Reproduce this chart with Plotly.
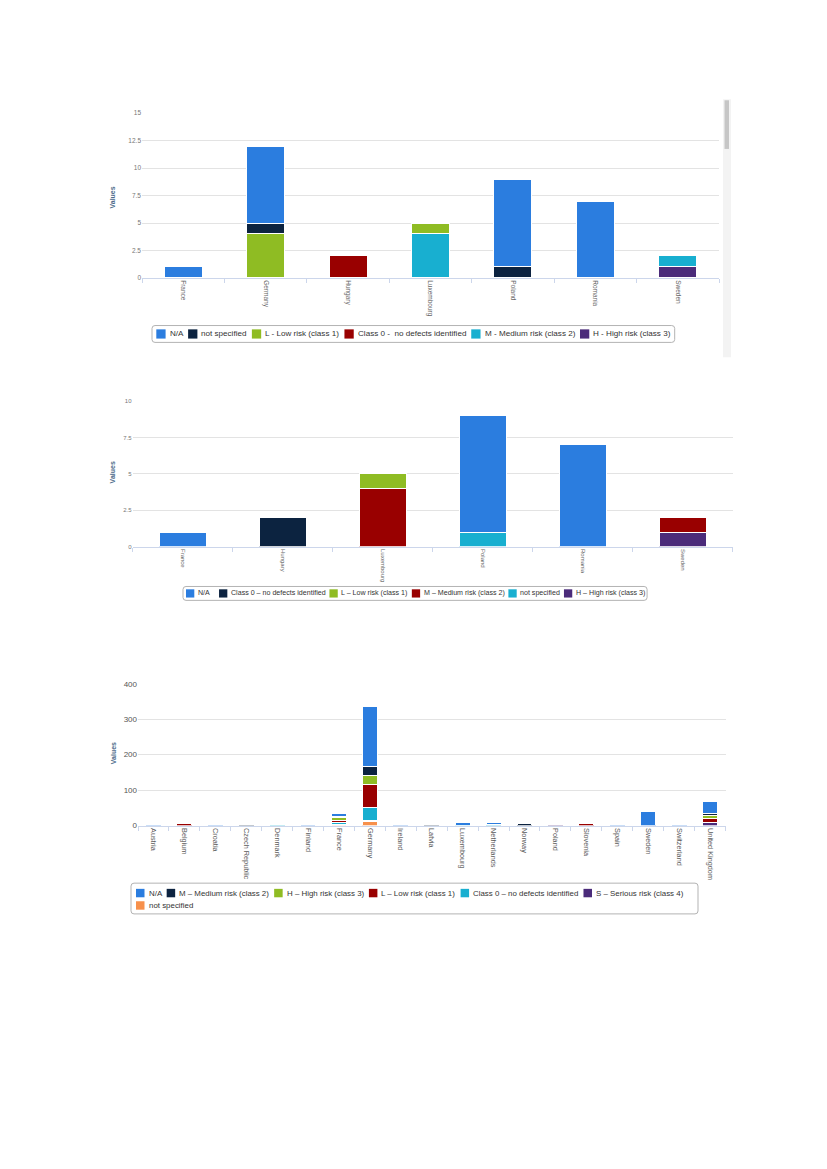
import plotly.graph_objects as go

# page body has an 8px margin, so the figure is drawn inside it
OFF = 8
W, H = 827 - 2 * OFF, 1169 - 2 * OFF
FONT = "Liberation Sans"

# ---------------- data ----------------
cats1 = ["France", "Germany", "Hungary", "Luxembourg", "Poland", "Romania", "Sweden"]
names1 = ["N/A", "not specified", "L - Low risk (class 1)", "Class 0 -  no defects identified",
          "M - Medium risk (class 2)", "H - High risk (class 3)"]
vals1_na = [1, 7, None, None, 8, 7, None]
vals1_notspec = [None, 1, None, None, 1, None, None]
vals1_low = [None, 4, None, 1, None, None, None]
vals1_class0 = [None, None, 2, None, None, None, None]
vals1_medium = [None, None, None, 4, None, None, 1]
vals1_high = [None, None, None, None, None, None, 1]
series1 = [vals1_na, vals1_notspec, vals1_low, vals1_class0, vals1_medium, vals1_high]
ticks1 = [0, 2.5, 5, 7.5, 10, 12.5, 15]

cats2 = ["France", "Hungary", "Luxembourg", "Poland", "Romania", "Sweden"]
names2 = ["N/A", "Class 0 – no defects identified", "L – Low risk (class 1)",
          "M – Medium risk (class 2)", "not specified", "H – High risk (class 3)"]
vals2_na = [1, None, None, 8, 7, None]
vals2_class0 = [None, 2, None, None, None, None]
vals2_low = [None, None, 1, None, None, None]
vals2_medium = [None, None, 4, None, None, 1]
vals2_notspec = [None, None, None, 1, None, None]
vals2_high = [None, None, None, None, None, 1]
series2 = [vals2_na, vals2_class0, vals2_low, vals2_medium, vals2_notspec, vals2_high]
ticks2 = [0, 2.5, 5, 7.5, 10]

cats3 = ["Austria", "Belgium", "Croatia", "Czech Republic", "Denmark", "Finland", "France",
         "Germany", "Ireland", "Latvia", "Luxembourg", "Netherlands", "Norway", "Poland",
         "Slovenia", "Spain", "Sweden", "Switzerland", "United Kingdom"]
names3 = ["N/A", "M – Medium risk (class 2)", "H – High risk (class 3)", "L – Low risk (class 1)",
          "Class 0 – no defects identified", "S – Serious risk (class 4)", "not specified"]
vals3_na = [1, None, 1, None, 4, 1, 8, 171, 1, None, 9, 5, None, None, None, 1, 41, 1, 32]
vals3_medium = [None, None, None, 1, None, None, 3, 26, None, 4, None, None, 5, None, None, None, None, None, 7]
vals3_high = [None, None, None, None, 3, None, 7, 25, None, None, None, None, None, None, None, None, None, None, 9]
vals3_low = [None, 5, None, None, None, None, 7, 63, None, None, None, None, None, None, 5, None, None, None, 9]
vals3_class0 = [None, None, None, None, 3, None, 6, 38, None, None, 1, 3, None, None, None, None, None, None, None]
vals3_serious = [None, None, None, None, None, None, 1, 2, None, None, None, None, None, 4, None, None, None, None, 10]
vals3_notspec = [None, None, None, None, None, None, 1, 12, None, None, None, None, None, None, None, None, None, None, None]
series3 = [vals3_na, vals3_medium, vals3_high, vals3_low, vals3_class0, vals3_serious, vals3_notspec]
ticks3 = [0, 100, 200, 300, 400]

BLUE, NAVY, GREEN, RED, CYAN, PURPLE, ORANGE = (
    "#2b7ddf", "#0c2340", "#8fbc23", "#990000", "#18afd0", "#4b2b7a", "#f7904b")
colors1 = [BLUE, NAVY, GREEN, RED, CYAN, PURPLE]
colors2 = [BLUE, NAVY, GREEN, RED, CYAN, PURPLE]
colors3 = [BLUE, NAVY, GREEN, RED, CYAN, PURPLE, ORANGE]

# ---------------- helpers ----------------
def X(px):
    return (px - OFF) / W

def Y(py):
    return 1 - (py - OFF) / H

AW = {" ": 278, "(": 333, ")": 333, "-": 333, "–": 556, "/": 278, ".": 278}
for d in "0123456789":
    AW[d] = 556
AW.update(dict(zip("ABCDEFGHIJKLMNOPQRSTUVWXYZ",
                   [667, 667, 722, 722, 667, 611, 778, 722, 278, 500, 667, 556, 833, 722, 778,
                    667, 778, 722, 667, 611, 722, 667, 944, 667, 667, 611])))
AW.update(dict(zip("abcdefghijklmnopqrstuvwxyz",
                   [556, 556, 500, 556, 556, 278, 556, 556, 222, 222, 500, 222, 833, 556, 556,
                    556, 556, 333, 500, 278, 556, 500, 722, 500, 500, 500])))

def tw(s, f):
    return sum(AW.get(c, 556) for c in s) * f / 1000.0

shapes = []
annotations = []

def rounded_box(x0, y0, x1, y1, r=3):
    rx, ry = r / W, r / H
    a, b, c, d = X(x0), X(x1), Y(y0), Y(y1)
    p = (f"M{a+rx},{c} L{b-rx},{c} Q{b},{c} {b},{c-ry} L{b},{d+ry} Q{b},{d} {b-rx},{d} "
         f"L{a+rx},{d} Q{a},{d} {a},{d+ry} L{a},{c-ry} Q{a},{c} {a+rx},{c} Z")
    shapes.append(dict(type="path", xref="paper", yref="paper", path=p,
                       line=dict(color="#b3b3b3", width=1), fillcolor="rgba(0,0,0,0)", layer="above"))

def legend(names, colors, rows, x_start, row_y, f, sym, pad, gap, first_gap=None, color="#333333"):
    end = x_start
    for r, idxs in enumerate(rows):
        x = x_start
        yc = row_y[r]
        for k, i in enumerate(idxs):
            if k > 0:
                x += (first_gap if (k == 1 and first_gap is not None) else gap)
            shapes.append(dict(type="rect", xref="paper", yref="paper",
                               x0=X(x), x1=X(x + sym), y0=Y(yc - sym / 2), y1=Y(yc + sym / 2),
                               fillcolor=colors[i], line=dict(width=0), layer="above"))
            annotations.append(dict(text=names[i], xref="paper", yref="paper",
                                    x=X(x + sym + pad), y=Y(yc), xanchor="left", yanchor="middle",
                                    showarrow=False, borderpad=0,
                                    font=dict(family=FONT, size=f, color=color)))
            x += sym + pad + tw(names[i], f)
        end = max(end, x)
    return end

# ---------------- figure ----------------
fig = go.Figure()

def add_bars(cats, series, names, colors, width, xa, ya):
    for vals, nm, col in reversed(list(zip(series, names, colors))):
        fig.add_trace(go.Bar(x=cats, y=vals, name=nm, width=width,
                             marker=dict(color=col, line=dict(color="white", width=1)),
                             xaxis=xa, yaxis=ya, showlegend=False))

add_bars(cats1, series1, names1, colors1, 0.46, "x", "y")
add_bars(cats2, series2, names2, colors2, 0.47, "x2", "y2")
add_bars(cats3, series3, names3, colors3, 0.48, "x3", "y3")

def xaxis(dom, anchor, fs, col):
    return dict(domain=[X(dom[0]), X(dom[1])], anchor=anchor, type="category",
                showline=True, linecolor="#ccd6eb", linewidth=1,
                ticks="outside", tickson="boundaries", ticklen=4, tickcolor="#ccd6eb",
                tickangle=90, tickfont=dict(family=FONT, size=fs, color=col),
                showgrid=False, zeroline=False, fixedrange=True)

def yaxis(dom, anchor, rng, tv, fs, col):
    return dict(domain=[Y(dom[1]), Y(dom[0])], anchor=anchor, range=rng,
                tickvals=tv, ticktext=[("%g" % v) for v in tv],
                showgrid=True, gridcolor="#e3e3e3", gridwidth=1,
                showline=False, zeroline=False, ticks="",
                tickfont=dict(family=FONT, size=fs, color=col), fixedrange=True)

fig.update_layout(
    width=W, height=H, margin=dict(l=0, r=0, t=0, b=0),
    paper_bgcolor="white", plot_bgcolor="white", barmode="stack", showlegend=False,
    font=dict(family=FONT),
    xaxis=xaxis([142, 719], "y", 6.5, "#666666"),
    yaxis=yaxis([110, 276], "x", [0, 15], ticks1, 6.5, "#777777"),
    xaxis2=xaxis([132.5, 732.5], "y2", 6, "#666666"),
    yaxis2=yaxis([400, 547], "x2", [0, 10], ticks2, 6, "#777777"),
    xaxis3=xaxis([138, 725.5], "y3", 7.3, "#5a5a5a"),
    yaxis3=yaxis([685, 828], "x3", [0, 400], ticks3, 8, "#555555"),
)

# y-axis titles
for (px, py) in [(113, 195), (112, 472), (113, 755)]:
    annotations.append(dict(text="<b>Values</b>", xref="paper", yref="paper", x=X(px), y=Y(py),
                            textangle=-90, showarrow=False, xanchor="center", yanchor="middle",
                            font=dict(family=FONT, size=7, color="#4d6b8a")))

# legends
e1 = legend(names1, colors1, [[0, 1, 2, 3, 4, 5]], 156.3, [332.5], 8.1, 9.3, 3, 6)
rounded_box(152, 324, e1 + 5, 341)

e2 = legend(names2, colors2, [[0, 1, 2, 3, 4, 5]], 186, [594], 7.1, 8.3, 2.4, 5, first_gap=10.5)
rounded_box(183, 587, e2 + 3, 601)

legend(names3, colors3, [[0, 1, 2, 3, 4, 5], [6]], 136, [896, 908.5], 7.9, 8.5, 3, 6)
rounded_box(131, 886, 698, 917)

# scrollbar strip beside the first chart
shapes.append(dict(type="rect", xref="paper", yref="paper", x0=X(723), x1=X(731), y0=Y(356), y1=Y(96),
                   fillcolor="#f3f3f3", line=dict(width=0), layer="below"))
shapes.append(dict(type="rect", xref="paper", yref="paper", x0=X(724.5), x1=X(729), y0=Y(146), y1=Y(97),
                   fillcolor="#c6c6c6", line=dict(width=0), layer="below"))

fig.update_layout(shapes=shapes, annotations=annotations)
fig.write_html("out.html")
